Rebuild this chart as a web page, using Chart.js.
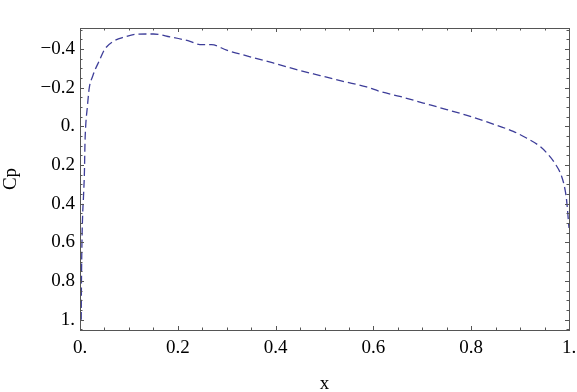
<!DOCTYPE html>
<html>
<head>
<meta charset="utf-8">
<script src="https://cdn.jsdelivr.net/npm/chart.js@4/dist/chart.umd.min.js"></script>
<style>
  html, body { margin: 0; padding: 0; background: #fff; }
  #wrap { width: 577px; height: 392px; }
</style>
</head>
<body>
<div id="wrap"><canvas id="c" width="577" height="392"></canvas></div>
<script>
// chordwise position and pressure coefficient
const xs  = [0.0025, 0.003, 0.004, 0.0055, 0.007, 0.009, 0.0102, 0.0116, 0.015, 0.019, 0.026, 0.031, 0.039, 0.05,
             0.068, 0.092, 0.116, 0.15, 0.184, 0.225, 0.245, 0.269, 0.3, 0.348, 0.395, 0.443,
             0.491, 0.538, 0.586, 0.613, 0.654, 0.702, 0.75, 0.798, 0.838, 0.886, 0.913,
             0.941, 0.958, 0.971, 0.985, 0.992, 0.995, 1.0];
const cps = [1.0, 0.8, 0.6, 0.45, 0.37, 0.24, 0.085, 0.0, -0.1, -0.2, -0.26, -0.294, -0.337, -0.397,
             -0.44, -0.463, -0.477, -0.478, -0.463, -0.44, -0.423, -0.423, -0.394, -0.36, -0.328, -0.294,
             -0.263, -0.233, -0.204, -0.181, -0.155, -0.121, -0.087, -0.052, -0.018, 0.026, 0.06,
             0.104, 0.147, 0.19, 0.259, 0.328, 0.38, 0.525];
const xTicks = [0, 0.2, 0.4, 0.6, 0.8, 1];
const yTicks = [-0.4, -0.2, 0, 0.2, 0.4, 0.6, 0.8, 1];

const fmt = (v) => {
  const r = Math.round(v * 10) / 10;
  if (Number.isInteger(r)) return (r < 0 ? "\u2212" : "") + Math.abs(r) + ".";
  return (r < 0 ? "\u2212" : "") + Math.abs(r).toFixed(1);
};

const FONT = { family: "'Liberation Serif', 'DejaVu Serif', serif", size: 19 };

// Mathematica-like frame with inward major/minor ticks on all four sides
const frame = {
  id: "frame",
  afterDraw(chart) {
    const { ctx, chartArea: a, scales } = chart;
    ctx.save();
    ctx.strokeStyle = "#555";
    ctx.lineWidth = 1;
    ctx.strokeRect(a.left + 0.5, a.top + 0.5, a.right - a.left, a.bottom - a.top);
    ctx.beginPath();
    for (let i = 0; i <= 20; i++) {
      const v = i * 0.05;
      const len = i % 4 === 0 ? 4 : 2.5;
      const px = Math.round(scales.x.getPixelForValue(v)) + 0.5;
      ctx.moveTo(px, a.bottom); ctx.lineTo(px, a.bottom - len);
      ctx.moveTo(px, a.top); ctx.lineTo(px, a.top + len);
    }
    for (let i = -10; i <= 21; i++) {
      const v = i * 0.05;
      if (v < scales.y.min || v > scales.y.max) continue;
      const len = i % 4 === 0 ? 4 : 2.5;
      const py = Math.round(scales.y.getPixelForValue(v)) + 0.5;
      ctx.moveTo(a.left, py); ctx.lineTo(a.left + len, py);
      ctx.moveTo(a.right, py); ctx.lineTo(a.right - len, py);
    }
    ctx.stroke();
    ctx.restore();
  },
};

new Chart(document.getElementById("c"), {
  type: "line",
  data: {
    datasets: [{
      data: xs.map((x, i) => ({ x, y: cps[i] })),
      borderColor: "#3d3d99",
      borderWidth: 1.3,
      borderDash: [8, 4],
      pointRadius: 0,
      cubicInterpolationMode: "monotone",
      fill: false,
    }],
  },
  options: {
    responsive: false,
    animation: false,
    events: [],
    layout: { padding: { top: 28, right: 8, left: 0, bottom: 0 } },
    plugins: { legend: { display: false }, tooltip: { enabled: false } },
    scales: {
      x: {
        type: "linear", min: 0, max: 1,
        afterBuildTicks: (s) => { s.ticks = xTicks.map((value) => ({ value })); },
        afterFit: (s) => { s.height = 62; },
        grid: { display: false, tickLength: 7 }, border: { display: false },
        ticks: { color: "#000", font: FONT, padding: 0, maxRotation: 0, callback: fmt },
        title: { display: true, text: "x", color: "#000", font: FONT, padding: { top: 4, bottom: -3 } },
      },
      y: {
        type: "linear", reverse: true, min: -0.509, max: 1.053,
        afterBuildTicks: (s) => { s.ticks = yTicks.map((value) => ({ value })); },
        afterFit: (s) => { s.width = 80; },
        grid: { display: false, tickLength: 5 }, border: { display: false },
        ticks: { color: "#000", font: FONT, padding: 0, callback: fmt },
        title: { display: true, text: "Cp", color: "#000", font: FONT, padding: { bottom: 0, top: 0 } },
      },
    },
  },
  plugins: [frame],
});
</script>
</body>
</html>
